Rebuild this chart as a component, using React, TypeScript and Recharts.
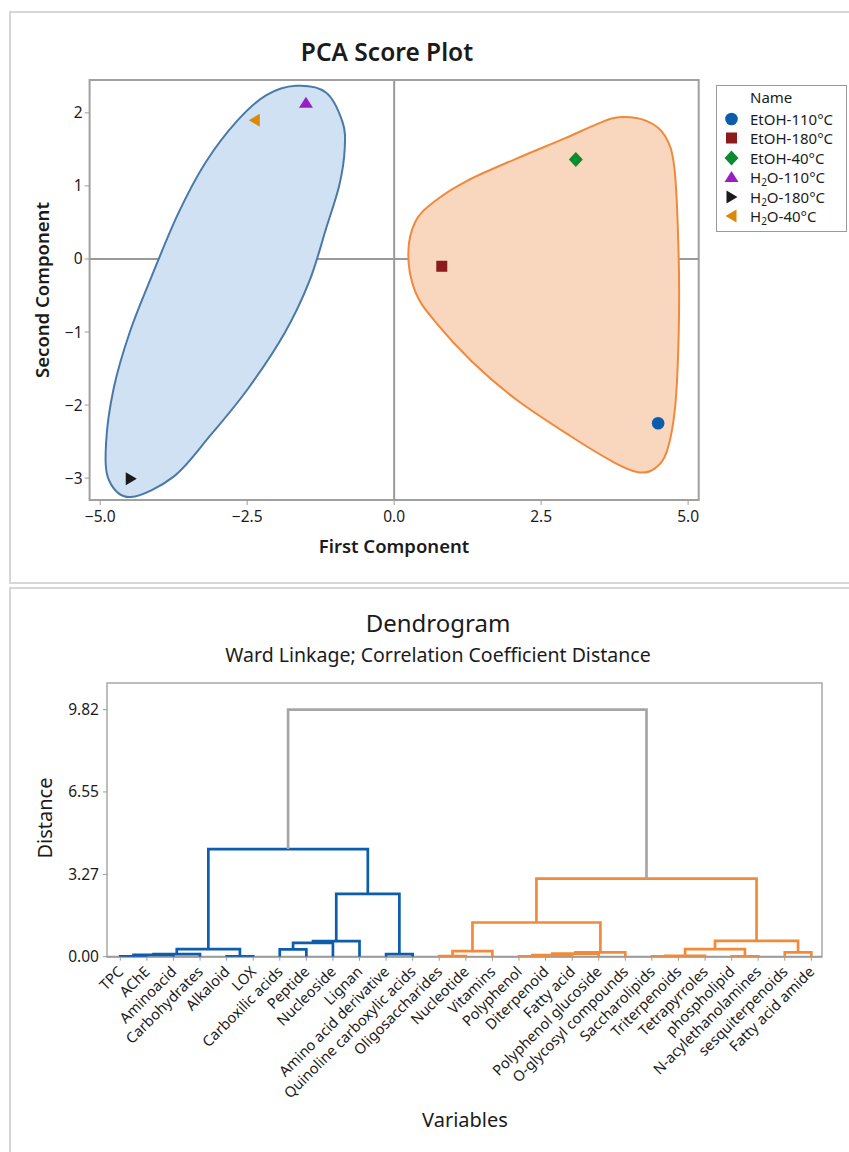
import React from 'react';
import { ScatterChart, Scatter, XAxis, YAxis, ReferenceLine, ReferenceArea } from 'recharts';

const FONT = '"Noto Sans", "Open Sans", "DejaVu Sans", sans-serif';
const TEXT = '#1b1b1b';
const AXIS_GRAY = '#9c9c9c';

// ---------- PCA score plot ----------
const sampleNames = ['EtOH-110°C', 'EtOH-180°C', 'EtOH-40°C', 'H2O-110°C', 'H2O-180°C', 'H2O-40°C'];
const firstComponent = [4.49, 0.81, 3.09, -1.5, -4.48, -2.37];
const secondComponent = [-2.25, -0.1, 1.36, 2.14, -3.01, 1.9];

const pcaXTicks = [-5, -2.5, 0, 2.5, 5];
const pcaYTicks = [-3, -2, -1, 0, 1, 2];
const PCA_X_DOMAIN = [-5.18, 5.18];
const PCA_Y_DOMAIN = [-3.3, 2.45];

// group outlines (first, second component)
const h2oOutline = [
  [-1.67, 2.37], [-1.16, 2.28], [-0.88, 1.88], [-0.84, 1.52], [-0.93, 1.02], [-1.16, 0.41],
  [-1.44, -0.3], [-1.86, -1.01], [-2.48, -1.77], [-3.13, -2.42], [-3.75, -2.98], [-4.48, -3.26],
  [-4.85, -3.03], [-4.9, -2.52], [-4.77, -1.77], [-4.5, -1.01], [-4.13, -0.25], [-3.68, 0.61],
  [-3.2, 1.33], [-2.66, 1.9], [-2.18, 2.24],
];
const etohOutline = [
  [0.24, 0.06], [0.36, 0.51], [0.69, 0.79], [1.24, 1.07], [2.07, 1.37], [2.9, 1.65], [3.46, 1.85],
  [3.82, 1.94], [4.29, 1.89], [4.61, 1.68], [4.77, 1.22], [4.84, 0.01], [4.84, -1.01], [4.78, -2.02],
  [4.64, -2.63], [4.43, -2.87], [4.15, -2.92], [3.73, -2.78], [2.99, -2.42], [2.07, -1.92],
  [1.33, -1.41], [0.69, -0.85], [0.36, -0.45],
];

const sampleStyles = [
  { kind: 'circle', color: '#0b5cad' },
  { kind: 'square', color: '#8c1b1b' },
  { kind: 'diamond', color: '#0c8a31' },
  { kind: 'up', color: '#9a1fc2' },
  { kind: 'right', color: '#1a1a1a' },
  { kind: 'left', color: '#da8a06' },
];

// ---------- dendrogram ----------
const variableNames = [
  'TPC', 'AChE', 'Aminoacid', 'Carbohydrates', 'Alkaloid', 'LOX', 'Carboxilic acids', 'Peptide',
  'Nucleoside', 'Lignan', 'Amino acid derivative', 'Quinoline carboxylic acids', 'Oligosaccharides',
  'Nucleotide', 'Vitamins', 'Polyphenol', 'Diterpenoid', 'Fatty acid', 'Polyphenol glucoside',
  'O-glycosyl compounds', 'Saccharolipids', 'Triterpenoids', 'Tetrapyrroles', 'phospholipid',
  'N-acylethanolamines', 'sesquiterpenoids', 'Fatty acid amide',
];
// [left, right, distance]; ids >= 27 refer to earlier merges (27 + row index)
const wardMerges: [number, number, number][] = [
  [0, 1, 0.01], [27, 2, 0.07], [28, 3, 0.1], [4, 5, 0.01], [29, 30, 0.3],
  [6, 7, 0.29], [32, 8, 0.55], [33, 9, 0.62], [10, 11, 0.1], [34, 35, 2.5], [31, 36, 4.28],
  [12, 13, 0.02], [38, 14, 0.22], [15, 16, 0.01], [40, 17, 0.06], [41, 18, 0.12], [42, 19, 0.17],
  [39, 43, 1.36], [20, 21, 0.01], [45, 22, 0.03], [23, 24, 0.01], [46, 47, 0.3], [25, 26, 0.17],
  [48, 49, 0.63], [44, 50, 3.1], [37, 51, 9.82],
];
const distanceTicks = [0, 3.27, 6.55, 9.82];
const DENDRO_X_DOMAIN = [-0.5, 26.4];
const DENDRO_Y_DOMAIN = [0, 10.88];

const BLUE = '#0d5cad';
const ORANGE = '#f28a3a';
const ROOT_GRAY = '#a6a6a6';

type Pt = { x: number; y: number };

function closedSmoothPath(pts: Pt[]) {
  const n = pts.length;
  let d = `M${pts[0].x},${pts[0].y}`;
  for (let i = 0; i < n; i++) {
    const p0 = pts[(i - 1 + n) % n];
    const p1 = pts[i];
    const p2 = pts[(i + 1) % n];
    const p3 = pts[(i + 2) % n];
    const c1x = p1.x + (p2.x - p0.x) / 6;
    const c1y = p1.y + (p2.y - p0.y) / 6;
    const c2x = p2.x - (p3.x - p1.x) / 6;
    const c2y = p2.y - (p3.y - p1.y) / 6;
    d += ` C${c1x},${c1y} ${c2x},${c2y} ${p2.x},${p2.y}`;
  }
  return d + 'Z';
}

const outlineLine = (fill: string, stroke: string) => (props: any) => (
  <path d={closedSmoothPath(props.points)} fill={fill} stroke={stroke} strokeWidth={2} />
);

const NoDot = () => <g />;

function Marker({ kind, cx, cy, color }: { kind: string; cx: number; cy: number; color: string }) {
  switch (kind) {
    case 'circle':
      return <circle cx={cx} cy={cy} r={6.3} fill={color} />;
    case 'square':
      return <rect x={cx - 5.5} y={cy - 5.5} width={11} height={11} fill={color} />;
    case 'diamond':
      return <polygon points={`${cx},${cy - 7.5} ${cx + 7},${cy} ${cx},${cy + 7.5} ${cx - 7},${cy}`} fill={color} />;
    case 'up':
      return <polygon points={`${cx},${cy - 6} ${cx + 7},${cy + 5} ${cx - 7},${cy + 5}`} fill={color} />;
    case 'right':
      return <polygon points={`${cx - 5},${cy - 6.5} ${cx + 6},${cy} ${cx - 5},${cy + 6.5}`} fill={color} />;
    default:
      return <polygon points={`${cx + 5},${cy - 6.5} ${cx - 6},${cy} ${cx + 5},${cy + 6.5}`} fill={color} />;
  }
}

const fmtPcaX = (v: number) => (v < 0 ? '\u2212' : '') + Math.abs(v).toFixed(1);
const fmtPcaY = (v: number) => (v < 0 ? '\u2212' : '') + Math.abs(v);

function buildLinks() {
  const n = variableNames.length;
  const xs: number[] = variableNames.map((_, i) => i);
  const hs: number[] = variableNames.map(() => 0);
  wardMerges.forEach(([a, b, h], k) => {
    xs[n + k] = (xs[a] + xs[b]) / 2;
    hs[n + k] = h;
  });
  const colors: string[] = [];
  const paint = (id: number, c: string) => {
    colors[id] = c;
    if (id >= n) {
      const [a, b] = wardMerges[id - n];
      paint(a, c);
      paint(b, c);
    }
  };
  const root = wardMerges.length - 1;
  paint(wardMerges[root][0], BLUE);
  paint(wardMerges[root][1], ORANGE);
  colors[n + root] = ROOT_GRAY;
  return wardMerges.map(([a, b, h], k) => ({
    pts: [
      { x: xs[a], y: hs[a] },
      { x: xs[a], y: h },
      { x: xs[b], y: h },
      { x: xs[b], y: hs[b] },
    ],
    color: colors[n + k],
  }));
}

const LeafTick = ({ x, y, payload }: any) => {
  const ax = x + 4;
  const ay = y + 10;
  return (
    <text x={ax} y={ay} transform={`rotate(-45 ${ax} ${ay})`} textAnchor="end" fontSize={14.7} fill={TEXT} fontFamily={FONT}>
      {variableNames[payload.value]}
    </text>
  );
};

const SampleLabel = ({ name }: { name: string }) => {
  if (name.startsWith('H2O')) {
    return (
      <span>
        H<span style={{ fontSize: 10, verticalAlign: -3 }}>2</span>
        {name.slice(2)}
      </span>
    );
  }
  return <span>{name}</span>;
};

const Title = ({ text, cx, cy, size, weight = 400, rotate = false }: any) => (
  <div
    style={{
      position: 'absolute',
      left: cx,
      top: cy,
      transform: `translate(-50%, -50%)${rotate ? ' rotate(-90deg)' : ''}`,
      fontSize: size,
      fontWeight: weight,
      whiteSpace: 'nowrap',
      lineHeight: 1,
      color: TEXT,
    }}
  >
    {text}
  </div>
);

export default function App() {
  const links = buildLinks();
  const tickStyle = { fontSize: 15.5, fill: TEXT, fontFamily: FONT };
  return (
    <div
      style={{
        position: 'absolute',
        left: 0,
        top: 0,
        width: 849,
        height: 1152,
        overflow: 'hidden',
        background: '#fff',
        fontFamily: FONT,
      }}
    >
      <div style={{ position: 'absolute', left: 9, top: 11, width: 900, height: 569, border: '2px solid #d6d6d6' }} />
      <div style={{ position: 'absolute', left: 9, top: 587, width: 900, height: 600, border: '2px solid #d6d6d6' }} />

      {/* PCA score plot */}
      <div style={{ position: 'absolute', left: 0, top: 0 }}>
        <ScatterChart width={849} height={580} margin={{ top: 80, right: 150.3, bottom: 50, left: 49.6 }}>
          <XAxis
            type="number"
            dataKey="x"
            domain={PCA_X_DOMAIN}
            ticks={pcaXTicks}
            allowDataOverflow
            tickFormatter={fmtPcaX}
            axisLine={false}
            tickLine={{ stroke: AXIS_GRAY }}
            tickSize={5}
            tickMargin={6}
            height={30}
            tick={tickStyle}
          />
          <YAxis
            type="number"
            dataKey="y"
            domain={PCA_Y_DOMAIN}
            ticks={pcaYTicks}
            allowDataOverflow
            tickFormatter={fmtPcaY}
            axisLine={false}
            tickLine={{ stroke: AXIS_GRAY }}
            tickSize={5}
            width={40}
            tick={tickStyle}
          />
          <Scatter
            data={h2oOutline.map(([x, y]) => ({ x, y }))}
            shape={NoDot}
            line={outlineLine('#cfe1f2', '#4a79a8')}
            lineType="joint"
            isAnimationActive={false}
          />
          <Scatter
            data={etohOutline.map(([x, y]) => ({ x, y }))}
            shape={NoDot}
            line={outlineLine('#f9d6be', '#f0893b')}
            lineType="joint"
            isAnimationActive={false}
          />
          <ReferenceLine x={0} stroke="#9a9a9a" strokeWidth={2} />
          <ReferenceLine y={0} stroke="#9a9a9a" strokeWidth={2} />
          <ReferenceArea
            x1={PCA_X_DOMAIN[0]}
            x2={PCA_X_DOMAIN[1]}
            y1={PCA_Y_DOMAIN[0]}
            y2={PCA_Y_DOMAIN[1]}
            fill="none"
            stroke="#a0a0a0"
            strokeWidth={2}
          />
          {sampleNames.map((name, i) => (
            <Scatter
              key={name}
              name={name}
              data={[{ x: firstComponent[i], y: secondComponent[i] }]}
              shape={(p: any) => <Marker kind={sampleStyles[i].kind} cx={p.cx} cy={p.cy} color={sampleStyles[i].color} />}
              isAnimationActive={false}
            />
          ))}
        </ScatterChart>
      </div>

      <Title text="PCA Score Plot" cx={387} cy={52} size={24.5} weight={600} />
      <Title text="First Component" cx={394} cy={546} size={18.5} weight={600} />
      <Title text="Second Component" cx={42} cy={290} size={18.5} weight={600} rotate />

      {/* legend */}
      <div
        style={{
          position: 'absolute',
          left: 716,
          top: 85,
          width: 129,
          height: 145,
          border: '1.5px solid #9a9a9a',
          fontSize: 15,
          color: TEXT,
        }}
      >
        <div style={{ position: 'absolute', left: 33, top: 1, lineHeight: '20px' }}>Name</div>
        {sampleNames.map((name, i) => (
          <div key={name} style={{ position: 'absolute', left: 0, top: 22.5 + i * 19.5, height: 20, width: 129 }}>
            <svg width={30} height={20} style={{ position: 'absolute', left: 0, top: 0 }}>
              <Marker kind={sampleStyles[i].kind} cx={14.5} cy={10} color={sampleStyles[i].color} />
            </svg>
            <div style={{ position: 'absolute', left: 33, top: 0, lineHeight: '20px', whiteSpace: 'nowrap' }}>
              <SampleLabel name={name} />
            </div>
          </div>
        ))}
      </div>

      {/* dendrogram */}
      <div style={{ position: 'absolute', left: 0, top: 590 }}>
        <ScatterChart width={849} height={562} margin={{ top: 93, right: 27, bottom: 45.3, left: 57 }}>
          <XAxis
            type="number"
            dataKey="x"
            domain={DENDRO_X_DOMAIN}
            ticks={variableNames.map((_, i) => i)}
            interval={0}
            allowDataOverflow
            axisLine={{ stroke: AXIS_GRAY, strokeWidth: 2 }}
            tickLine={{ stroke: AXIS_GRAY }}
            tickSize={4}
            tickMargin={2}
            height={150}
            tick={<LeafTick />}
          />
          <YAxis
            type="number"
            dataKey="y"
            domain={DENDRO_Y_DOMAIN}
            ticks={distanceTicks}
            allowDataOverflow
            tickFormatter={(v: number) => v.toFixed(2)}
            axisLine={false}
            tickLine={{ stroke: AXIS_GRAY }}
            tickSize={4}
            tickMargin={4}
            width={50}
            tick={{ fontSize: 15.5, fill: TEXT, fontFamily: FONT }}
          />
          <ReferenceArea
            x1={DENDRO_X_DOMAIN[0]}
            x2={DENDRO_X_DOMAIN[1]}
            y1={DENDRO_Y_DOMAIN[0]}
            y2={DENDRO_Y_DOMAIN[1]}
            fill="none"
            stroke="#a8a8a8"
            strokeWidth={1.5}
          />
          {links.map((link, k) => (
            <Scatter
              key={k}
              data={link.pts}
              shape={NoDot}
              line={{ stroke: link.color, strokeWidth: 2.7 }}
              lineType="joint"
              isAnimationActive={false}
            />
          ))}
        </ScatterChart>
      </div>

      <Title text="Dendrogram" cx={438} cy={623} size={24} />
      <Title text="Ward Linkage; Correlation Coefficient Distance" cx={438} cy={655} size={19.5} />
      <Title text="Distance" cx={45} cy={818} size={20} rotate />
      <Title text="Variables" cx={465} cy={1120} size={20} />
    </div>
  );
}
